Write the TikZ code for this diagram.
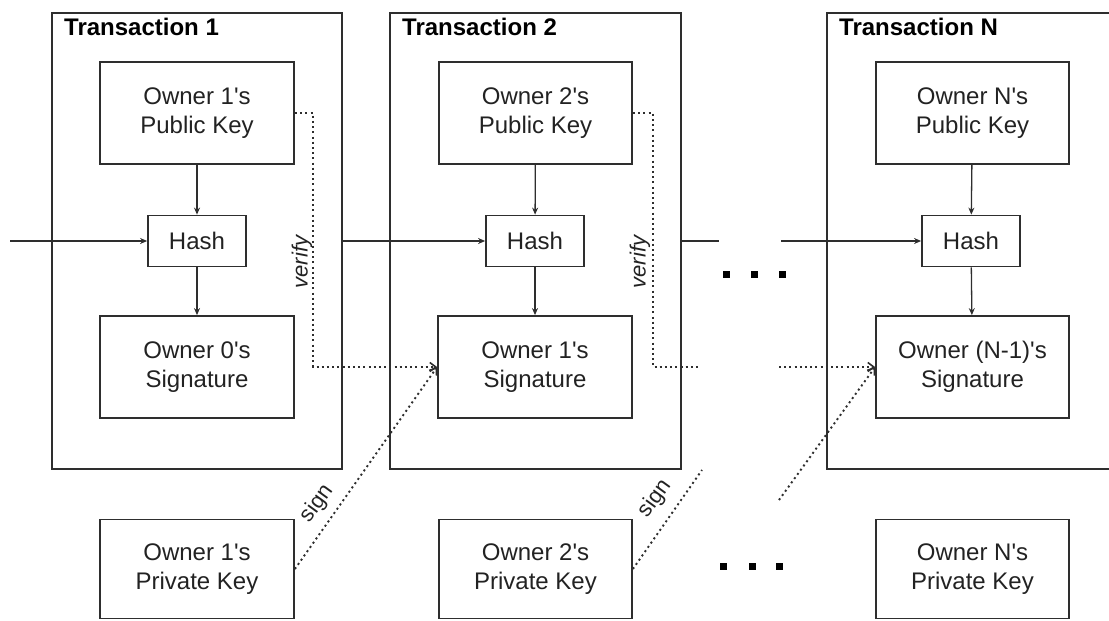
\documentclass[tikz,border=0pt]{standalone}
\usepackage{fontspec}
\setmainfont{Liberation Sans}
\usetikzlibrary{arrows.meta}
\definecolor{boxc}{HTML}{2E2E2E}
\definecolor{txt}{HTML}{222222}
\newcommand{\q}{\textquotesingle}
\begin{document}
\begin{tikzpicture}[x=1pt,y=-1pt,
  font=\fontsize{24}{29}\selectfont,
  outer/.style={draw=boxc,line width=2.6pt,minimum width=#1,minimum height=456pt,inner sep=0pt},
  big/.style={draw=boxc,line width=1.8pt,text=txt,align=center,minimum width=194pt,minimum height=102pt,inner sep=0pt},
  hashbox/.style={draw=boxc,line width=1.8pt,text=txt,minimum width=98pt,minimum height=51pt,inner sep=0pt},
  title/.style={anchor=base west,inner sep=0pt,font=\fontsize{24}{28}\selectfont\bfseries,text=black},
  arr/.style={draw=boxc,line width=1.3pt,-{Stealth[length=7pt,width=6pt]}},
  ln/.style={draw=boxc,line width=1.3pt},
  dot/.style={draw=boxc,line width=1.9pt,dash pattern=on 2pt off 3.2pt},
  dotarr/.style={dot,-{Straight Barb[length=6pt,width=9pt,line width=1.6pt]}},
  lbl/.style={text=txt,inner sep=0pt,font=\fontsize{22}{26}\selectfont}
]
\path[use as bounding box,clip] (0,0) rectangle (1109,621);

% outer transaction boxes
\node[outer=290pt] (T1) at (197,241) {};
\node[outer=291pt] (T2) at (535.5,241) {};
\node[outer=293pt] (TN) at (973.5,241) {};
\node[title] (t1) at (64,35) {Transaction 1};
\node[title] (t2) at (402,35) {Transaction 2};
\node[title] (tN) at (839,35) {Transaction N};

% transaction 1
\node[big] (pub1) at (197,113) {Owner 1\q s\\Public Key};
\node[hashbox] (hash1) at (197,241) {Hash};
\node[big] (sig1) at (197,367) {Owner 0\q s\\Signature};
\node[big,minimum height=99pt] (priv1) at (197,569) {Owner 1\q s\\Private Key};

% transaction 2
\node[big,minimum width=193pt] (pub2) at (535.5,113) {Owner 2\q s\\Public Key};
\node[hashbox] (hash2) at (535,241) {Hash};
\node[big] (sig2) at (535,367) {Owner 1\q s\\Signature};
\node[big,minimum width=193pt,minimum height=99pt] (priv2) at (535.5,569) {Owner 2\q s\\Private Key};

% transaction N
\node[big,minimum width=193pt] (pubN) at (972.5,113) {Owner N\q s\\Public Key};
\node[hashbox] (hashN) at (971,241) {Hash};
\node[big,minimum width=193pt] (sigN) at (972.5,367) {Owner (N-1)\q s\\Signature};
\node[big,minimum width=193pt,minimum height=99pt] (privN) at (972.5,569) {Owner N\q s\\Private Key};

% free ends
\coordinate (in0) at (10,241);
\coordinate (stubA) at (719,241);
\coordinate (stubB) at (781,241);
\coordinate (vA) at (700,367);
\coordinate (vB) at (779,367);
\coordinate (sA) at (702,470);
\coordinate (sB) at (779,500);

% chain arrows
\draw[arr] (in0) -- (hash1.west);
\draw[arr] (T1.east |- hash2.west) -- (hash2.west);
\draw[ln] (T2.east |- stubA) -- (stubA);
\draw[arr] (stubB) -- (hashN.west);

% vertical arrows
\foreach \i in {1,2,N}{
  \draw[arr] (pub\i) -- (hash\i);
  \draw[arr] (hash\i) -- (sig\i);
}

% verify
\draw[dotarr] (pub1.east) -- (313,113) -- (313,367) -- (sig2.west);
\draw[dot] (pub2.east) -- (653,113) -- (653,367) -- (vA);
\draw[dotarr] (vB) -- (sigN.west);
\node[lbl,rotate=90] (ver1) at (302,262) {\itshape verify};
\node[lbl,rotate=90] (ver2) at (640,262) {\itshape verify};

% sign
\draw[dotarr] (priv1.east) -- (sig2.west);
\draw[dot] (priv2.east) -- (sA);
\draw[dotarr] (sB) -- (sigN.west);
\node[lbl,rotate=54] (sg1) at (317,504) {sign};
\node[lbl,rotate=54] (sg2) at (655,499) {sign};

% ellipses
\foreach \x in {726,754,782}{\fill[black] (\x-3.5,270.5) rectangle (\x+3.5,277.5);}
\foreach \x in {723,752,779}{\fill[black] (\x-3.5,562.5) rectangle (\x+3.5,569.5);}
\end{tikzpicture}
\end{document}
